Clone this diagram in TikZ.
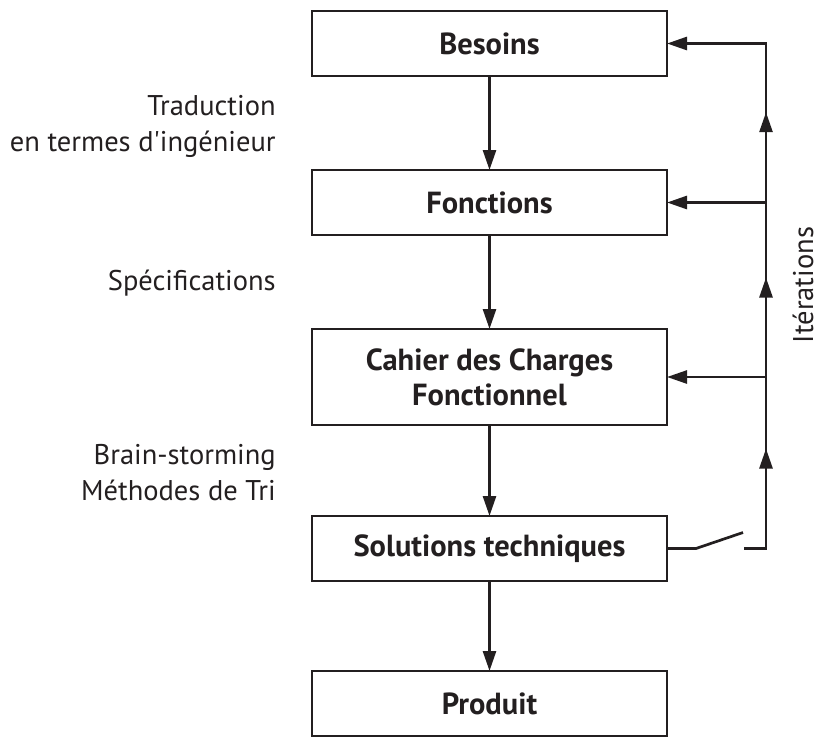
\documentclass[tikz,border=0pt]{standalone}
\usepackage{fontspec}
\setmainfont{PT Sans}
\usetikzlibrary{arrows.meta,positioning,decorations.markings}
\definecolor{ink}{RGB}{35,31,32}

\begin{document}
\begin{tikzpicture}[x=1pt,y=-1pt,->,>={Triangle[length=20pt,width=13pt]},
                    color=ink,line width=2.7pt,node distance=92pt,
                    box node/.style={rectangle,draw,minimum width=355pt,minimum height=65pt,
                      inner sep=0pt,outer sep=0pt,align=center,
                      font=\fontsize{30.5}{35}\selectfont\bfseries},
                    side node/.style={inner sep=0pt,align=right,font=\fontsize{28.5}{36}\selectfont},
                    mid tip/.style={postaction={decorate},
                      decoration={markings,mark=at position #1 with {\arrow{>}}}}]
  \useasboundingbox (0,0) rectangle (824,737);

  \node[box node] (1) at (489.5,43.5) {Besoins};
  \node[box node] (2) [below=94pt of 1] {Fonctions};
  \node[box node,minimum height=96pt] (3) [below=94pt of 2] {Cahier des Charges\\Fonctionnel};
  \node[box node] (4) [below=91pt of 3] {Solutions techniques};
  \node[box node] (5) [below=90pt of 4] {Produit};

  \path (1) edge (2)
        (2) edge (3)
        (3) edge (4)
        (4) edge (5);

  % interrupteur + retour
  \coordinate[right=29pt of 4.east] (s1);
  \coordinate[above right=16pt and 47pt of s1] (s2);
  \coordinate[right=48pt of s1] (s3);
  \coordinate[right=70pt of s1] (s4);

  \draw[-] (4.east) -- (s1) -- (s2);
  \draw[-,mid tip=0.63] (s3) -- (s4) -- (s4 |- 3.east);
  \draw[-,mid tip=0.57] (s4 |- 3.east) -- (s4 |- 2.east);
  \draw[mid tip=0.35] (s4 |- 2.east) -- (s4 |- 1.east) -- (1.east);
  \draw (s4 |- 2.east) -- (2.east);
  \draw (s4 |- 3.east) -- (3.east);

  \node[side node,anchor=east] (t1) at (277,126) {Traduction~\\en termes d\textquotesingle ingénieur};
  \node[side node,anchor=base east] (t2) at (277,290) {Spécifications};
  \node[side node,anchor=east] (t3) at (277,473) {Brain-storming\\Méthodes de Tri};
  \node[side node,rotate=90] (t4) at (803,285) {Itérations};
\end{tikzpicture}
\end{document}
